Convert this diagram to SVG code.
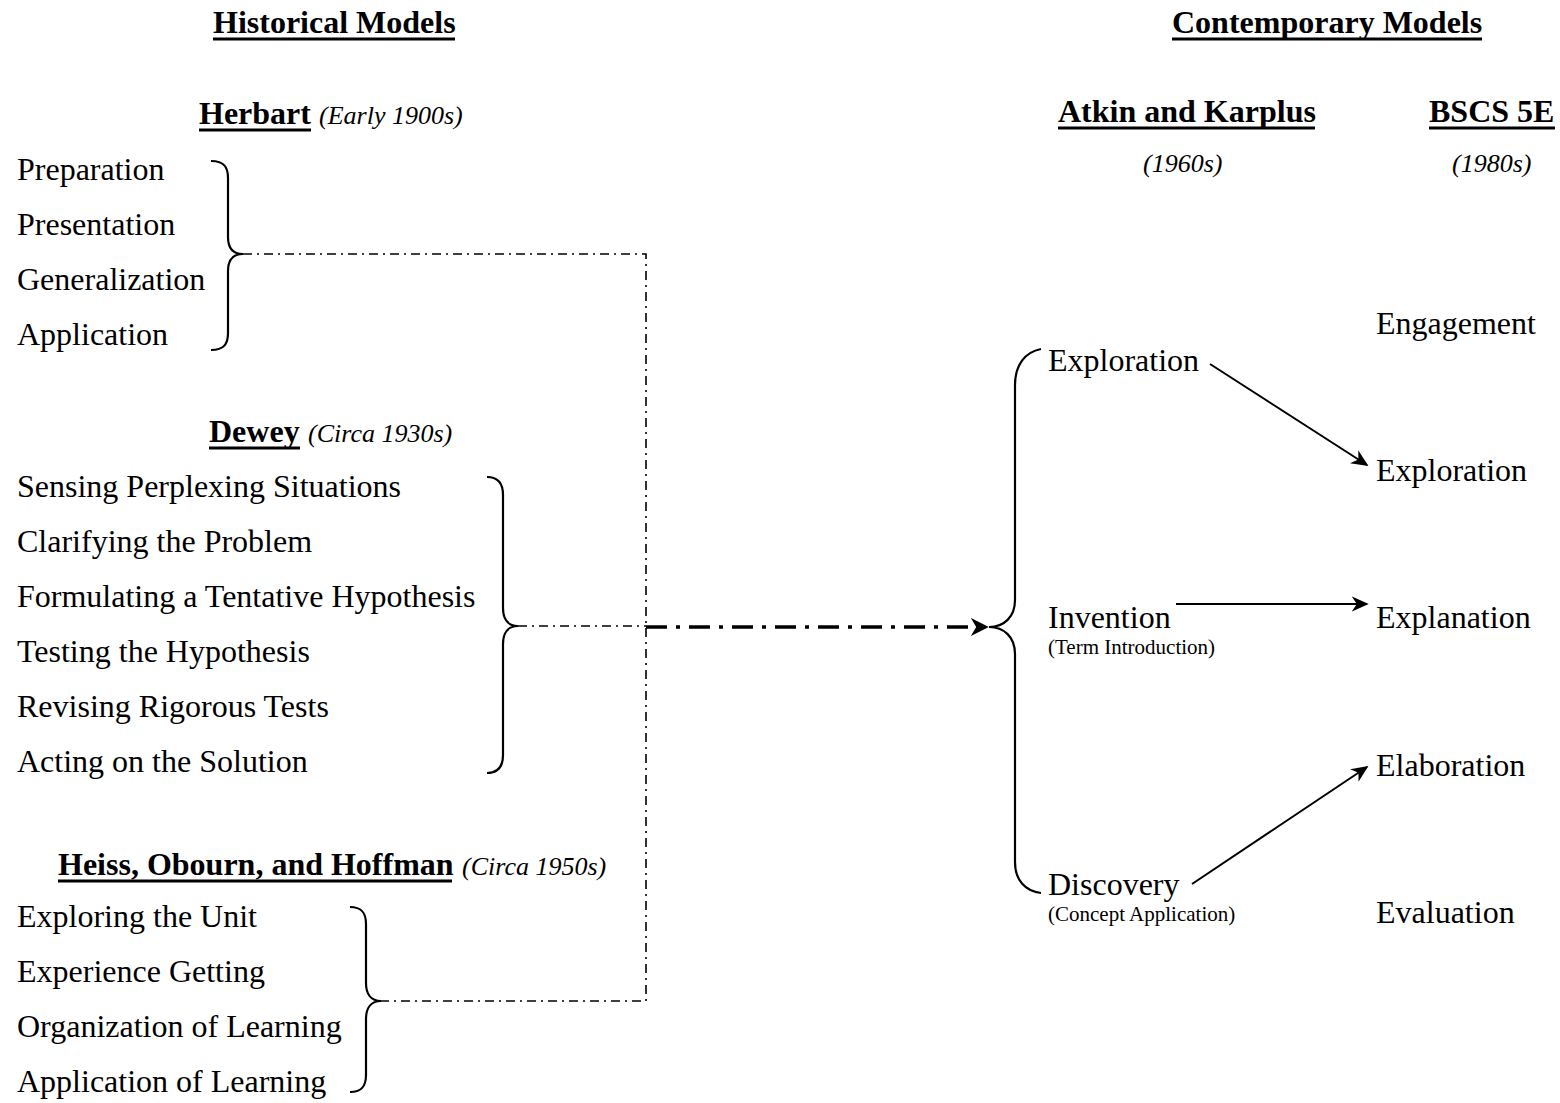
<svg xmlns="http://www.w3.org/2000/svg" width="1560" height="1103" viewBox="0 0 1560 1103">
<style>
text{font-family:"Liberation Serif","Times New Roman",serif;fill:#000}
.t{font-size:32px}
.h{font-size:32px;font-weight:bold}
.d{font-size:26px;font-style:italic}
.s{font-size:21px}
.ul{stroke:#000;stroke-width:3}
.br{fill:none;stroke:#000;stroke-width:2.2}
.dd{fill:none;stroke:#000;stroke-width:1.6;stroke-dasharray:9 5 2 5}
.dt{fill:none;stroke:#000;stroke-width:3.5;stroke-dasharray:21 9 4 9}
.ar{fill:none;stroke:#000;stroke-width:2}
</style>
<defs>
<marker id="ah1" viewBox="0 0 10 10" refX="9" refY="5" markerWidth="17" markerHeight="17" orient="auto" markerUnits="userSpaceOnUse">
<path d="M0,0.5 L10,5 L0,9.5 L3,5 Z" fill="#000"/>
</marker>
<marker id="ah2" viewBox="0 0 10 10" refX="9" refY="5" markerWidth="18" markerHeight="18" orient="auto" markerUnits="userSpaceOnUse">
<path d="M0,0 L10,5 L0,10 L3,5 Z" fill="#000"/>
</marker>
</defs>

<g id="title-historical">
<text class="h" x="213" y="33">Historical Models</text>
<line class="ul" x1="213" y1="39" x2="455" y2="39"/>
</g>
<g id="title-contemporary">
<text class="h" x="1172" y="33">Contemporary Models</text>
<line class="ul" x1="1172" y1="39" x2="1482" y2="39"/>
</g>

<g id="herbart">
<text class="h" x="199" y="124">Herbart</text>
<line class="ul" x1="199" y1="130" x2="311" y2="130"/>
<text class="d" x="319" y="124">(Early 1900s)</text>
<text class="t" x="17" y="180">Preparation</text>
<text class="t" x="17" y="235">Presentation</text>
<text class="t" x="17" y="290">Generalization</text>
<text class="t" x="17" y="345">Application</text>
<path class="br" d="M211,161 C224,161 228,167 228,178 L228,237 C228,248 233,254 243,254 C233,254 228,260 228,271 L228,333 C228,344 224,350 211,350"/>
</g>

<g id="dewey">
<text class="h" x="209" y="442">Dewey</text>
<line class="ul" x1="209" y1="448" x2="300" y2="448"/>
<text class="d" x="308" y="442">(Circa 1930s)</text>
<text class="t" x="17" y="497">Sensing Perplexing Situations</text>
<text class="t" x="17" y="552">Clarifying the Problem</text>
<text class="t" x="17" y="607">Formulating a Tentative Hypothesis</text>
<text class="t" x="17" y="662">Testing the Hypothesis</text>
<text class="t" x="17" y="717">Revising Rigorous Tests</text>
<text class="t" x="17" y="772">Acting on the Solution</text>
<path class="br" d="M487,477 C499,477 503,484 503,495 L503,608 C503,619 508,626 518,626 C508,626 503,633 503,644 L503,755 C503,766 499,773 487,773"/>
</g>

<g id="heiss">
<text class="h" x="58" y="875">Heiss, Obourn, and Hoffman</text>
<line class="ul" x1="58" y1="881" x2="452" y2="881"/>
<text class="d" x="462" y="875">(Circa 1950s)</text>
<text class="t" x="17" y="927">Exploring the Unit</text>
<text class="t" x="17" y="982">Experience Getting</text>
<text class="t" x="17" y="1037">Organization of Learning</text>
<text class="t" x="17" y="1092">Application of Learning</text>
<path class="br" d="M350,907 C362,907 366,913 366,924 L366,983 C366,994 371,1001 381,1001 C371,1001 366,1008 366,1019 L366,1075 C366,1086 362,1092 350,1092"/>
</g>

<g id="atkin-karplus">
<text class="h" x="1058" y="122">Atkin and Karplus</text>
<line class="ul" x1="1058" y1="128" x2="1315" y2="128"/>
<text class="d" x="1143" y="172">(1960s)</text>
<path class="br" d="M1041,349 C1025,352 1015,365 1015,385 L1015,600 C1015,617 1004,627 989,627 C1004,627 1015,637 1015,654 L1015,862 C1015,880 1025,891 1041,893"/>
<text class="t" x="1048" y="371">Exploration</text>
<text class="t" x="1048" y="628">Invention</text>
<text class="s" x="1048" y="654">(Term Introduction)</text>
<text class="t" x="1048" y="895">Discovery</text>
<text class="s" x="1048" y="921">(Concept Application)</text>
</g>

<g id="bscs-5e">
<text class="h" x="1429" y="122">BSCS 5E</text>
<line class="ul" x1="1429" y1="128" x2="1555" y2="128"/>
<text class="d" x="1452" y="172">(1980s)</text>
<text class="t" x="1376" y="334">Engagement</text>
<text class="t" x="1376" y="481">Exploration</text>
<text class="t" x="1376" y="628">Explanation</text>
<text class="t" x="1376" y="776">Elaboration</text>
<text class="t" x="1376" y="923">Evaluation</text>
</g>

<g id="connectors">
<path class="dd" d="M243,254 H646 V1001 H381"/>
<path class="dd" d="M518,626 H646"/>
<path class="dt" d="M646,627 H987" marker-end="url(#ah2)"/>
<path class="ar" d="M1210,364 L1367,465" marker-end="url(#ah1)"/>
<path class="ar" d="M1176,604 L1367,604" marker-end="url(#ah1)"/>
<path class="ar" d="M1192,884 L1367,767" marker-end="url(#ah1)"/>
</g>
</svg>
